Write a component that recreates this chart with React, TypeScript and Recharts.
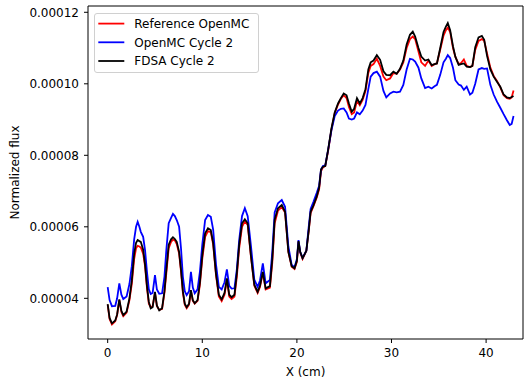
import React from 'react';
import { LineChart, Line, XAxis, YAxis, Legend, ReferenceLine } from 'recharts';

// x positions (cm)
const xs: number[] = [
  0, 0.2, 0.45, 0.8, 1.0, 1.23, 1.45, 1.65, 2.0, 2.3, 2.55, 2.8, 3.0, 3.17, 3.35, 3.5, 3.75, 3.95, 4.15, 4.35, 4.55, 4.75, 5.0, 5.2, 5.45, 5.75, 6.0, 6.2, 6.45, 6.7, 6.9, 7.1, 7.3, 7.55, 7.75, 7.95, 8.15, 8.35, 8.6, 8.8, 9.0, 9.2, 9.5, 9.75, 10.0,
  10.3, 10.6, 10.9, 11.15, 11.45, 11.75, 12.05, 12.35, 12.6, 12.85, 13.1, 13.4, 13.65, 13.9, 14.2, 14.5, 14.8, 15.15, 15.5, 15.85, 16.1, 16.4, 16.7, 17.15, 17.4, 17.65, 18.0, 18.4, 18.75, 19.1, 19.45, 19.75, 20.0, 20.17, 20.35, 20.6,
  21.0, 21.25, 21.45, 21.75, 22.1, 22.35, 22.55, 22.75, 23.0, 23.3, 23.65, 24.0, 24.35, 24.65, 24.95, 25.25, 25.5, 25.8, 26.05, 26.35, 26.65, 26.95, 27.25, 27.55, 27.8,
  28.1, 28.45, 28.8, 29.15, 29.45, 29.85, 30.2, 30.55, 30.9, 31.25, 31.6, 31.95, 32.25, 32.5, 32.85, 33.15, 33.55, 33.9, 34.25, 34.55, 34.8, 35.15, 35.5, 35.75, 35.95, 36.2, 36.5, 36.75, 37.1, 37.35, 37.65, 37.95, 38.3, 38.55, 38.85, 39.2, 39.55, 39.8, 40.1, 40.45, 40.8, 41.15, 41.5, 41.85, 42.2, 42.5, 42.7, 42.9,
];

// values in units of 1e-5
const referenceOpenMC: number[] = [
  3.82, 3.42, 3.27, 3.36, 3.53, 3.95, 3.62, 3.5, 3.6, 3.95, 4.4, 5.1, 5.4, 5.47, 5.45, 5.42, 5.25, 4.9, 4.3, 3.85, 3.75, 3.78, 4.15, 3.78, 3.68, 3.7, 4.15, 4.7, 5.4, 5.58, 5.64, 5.62, 5.52, 5.25, 4.75, 4.15, 3.82, 3.72, 3.82, 4.2, 3.93, 3.85, 3.93, 4.38, 5.1,
  5.72, 5.88, 5.85, 5.5, 4.65, 4.05, 3.92, 4.1, 4.52, 4.05, 3.98, 4.05, 4.6, 5.4, 6.0, 6.15, 6.05, 5.15, 4.35, 4.15, 4.32, 4.72, 4.25, 4.3, 5.0, 6.1, 6.45, 6.55, 6.4, 5.3, 4.88, 4.82, 5.02, 5.58, 5.28, 5.1,
  5.33, 5.88, 6.38, 6.58, 6.82, 7.05, 7.55, 7.66, 7.7, 8.12, 8.72, 9.18, 9.42, 9.58, 9.68, 9.6, 9.35, 9.15, 9.2, 9.52, 9.4, 9.55, 9.8, 10.3, 10.5,
  10.55, 10.7, 10.5, 10.2, 10.1, 10.15, 10.3, 10.28, 10.4, 10.6, 11.0, 11.25, 11.32, 11.25, 10.9, 10.6, 10.5, 10.65, 10.5, 10.55, 10.57, 10.95, 11.35, 11.5, 11.57, 11.45, 11.0, 10.75, 10.55, 10.58, 10.68, 10.5, 10.47, 10.5, 10.95, 11.2, 11.25, 11.2, 10.85, 10.45, 10.22, 10.08, 9.9, 9.68, 9.6, 9.58, 9.62, 9.81,
];

const openMCCycle2: number[] = [
  4.31, 3.95, 3.78, 3.79, 4.0, 4.42, 4.1, 3.98, 4.05, 4.4, 4.9, 5.65, 6.0, 6.14, 6.0, 5.86, 5.72, 5.35, 4.75, 4.25, 4.12, 4.15, 4.65, 4.25, 4.13, 4.14, 4.6, 5.35, 6.1, 6.25, 6.36, 6.3, 6.19, 6.0, 5.4, 4.6, 4.2, 4.09, 4.2, 4.74, 4.3, 4.14, 4.25, 4.75, 5.5,
  6.19, 6.33, 6.28, 5.92, 4.95, 4.32, 4.25, 4.45, 4.81, 4.35, 4.27, 4.28, 4.8, 5.63, 6.3, 6.52, 6.3, 5.45, 4.52, 4.32, 4.5, 4.98, 4.42, 4.51, 5.3, 6.4, 6.66, 6.75, 6.56, 5.45, 4.93, 4.87, 5.1, 5.63, 5.3, 5.13,
  5.33, 6.0, 6.5, 6.7, 6.95, 7.15, 7.6, 7.7, 7.72, 8.15, 8.7, 9.1, 9.25, 9.3, 9.31, 9.2, 9.03, 9.0, 9.03, 9.2, 9.15, 9.25, 9.41, 9.85, 10.2,
  10.3, 10.34, 10.2, 9.8, 9.62, 9.73, 9.78, 9.76, 9.78, 9.97, 10.4, 10.7, 10.68, 10.62, 10.45, 10.15, 9.88, 9.92, 9.87, 9.93, 9.97, 10.25, 10.6, 10.7, 10.8, 10.72, 10.45, 10.1, 9.98, 9.95, 9.83, 9.92, 9.7, 9.75, 10.0, 10.4, 10.44, 10.42, 10.43, 9.97, 9.7, 9.5, 9.33, 9.15, 8.98, 8.85, 8.88, 9.1,
];

const fdsaCycle2: number[] = [
  3.84, 3.45, 3.3, 3.38, 3.55, 3.97, 3.65, 3.53, 3.63, 4.0, 4.5, 5.25, 5.55, 5.63, 5.6, 5.58, 5.36, 4.95, 4.35, 3.9, 3.72, 3.75, 4.18, 3.8, 3.66, 3.72, 4.2, 4.8, 5.5, 5.65, 5.71, 5.66, 5.58, 5.3, 4.8, 4.2, 3.85, 3.75, 3.85, 4.23, 3.95, 3.86, 3.95, 4.45, 5.2,
  5.82, 5.96, 5.91, 5.55, 4.68, 4.1, 3.97, 4.15, 4.56, 4.1, 4.03, 4.1, 4.7, 5.5, 6.1, 6.21, 6.1, 5.17, 4.38, 4.18, 4.35, 4.74, 4.28, 4.34, 5.1, 6.2, 6.52, 6.61, 6.42, 5.3, 4.9, 4.84, 5.05, 5.6, 5.3, 5.12,
  5.33, 5.9, 6.42, 6.6, 6.85, 7.1, 7.6, 7.68, 7.7, 8.15, 8.75, 9.2, 9.45, 9.6, 9.73, 9.68, 9.45, 9.22, 9.3, 9.6, 9.45, 9.6, 9.85, 10.4, 10.6,
  10.65, 10.8, 10.67, 10.35, 10.25, 10.24, 10.34, 10.28, 10.42, 10.65, 11.1, 11.37, 11.46, 11.32, 11.0, 10.76, 10.65, 10.68, 10.52, 10.55, 10.57, 11.0, 11.45, 11.6, 11.7, 11.5, 11.05, 10.76, 10.53, 10.55, 10.57, 10.48, 10.47, 10.5, 11.02, 11.3, 11.34, 11.23, 10.78, 10.4, 10.2, 10.06, 9.92, 9.7, 9.62, 9.6, 9.63, 9.66,
];

const xTicks: number[] = [0, 10, 20, 30, 40];
const yTicks: number[] = [0.00004, 0.00006, 0.00008, 0.0001, 0.00012];

const seriesNames = ['Reference OpenMC', 'OpenMC Cycle 2', 'FDSA Cycle 2'];
const seriesColors = ['#ff0000', '#0000ff', '#000000'];

const data = xs.map((x, i) => ({
  x,
  ref: referenceOpenMC[i] * 1e-5,
  omc: openMCCycle2[i] * 1e-5,
  fdsa: fdsaCycle2[i] * 1e-5,
}));

const FONT = '"DejaVu Sans", sans-serif';
const X_DOMAIN: [number, number] = [-2.08, 43.9];
const Y_DOMAIN: [number, number] = [2.862e-5, 12.176e-5];

const YLabel = () => (
  <text
    x={15}
    y={172.5}
    transform="rotate(-90 15 172.5)"
    textAnchor="middle"
    dominantBaseline="central"
    fontSize={12}
    fontFamily={FONT}
    fill="#000"
  >
    Normalized flux
  </text>
);

const XLabel = () => (
  <text x={305.5} y={376} textAnchor="middle" fontSize={12} fontFamily={FONT} fill="#000">
    X (cm)
  </text>
);

const LegendBox = () => (
  <div
    style={{
      width: 165,
      height: 60,
      boxSizing: 'border-box',
      border: '1px solid #d0d0d0',
      borderRadius: 3,
      background: 'rgba(255,255,255,0.8)',
      position: 'relative',
    }}
  >
    <svg width={165} height={60} style={{ position: 'absolute', left: -1, top: -1 }}>
      {seriesNames.map((name, i) => (
        <g key={name}>
          <line x1={4.3} x2={30.3} y1={10.6 + i * 18.7} y2={10.6 + i * 18.7} stroke={seriesColors[i]} strokeWidth={1.8} />
          <text x={40.3} y={10.6 + i * 18.7 + 4.3} fontSize={12} fontFamily={FONT} fill="#000">
            {name}
          </text>
        </g>
      ))}
    </svg>
  </div>
);

export default function App() {
  return (
    <div style={{ position: 'absolute', left: 0, top: 0, width: 529, height: 383, background: '#fff' }}>
      <LineChart width={529} height={383} data={data} margin={{ top: 6, right: 6, bottom: 0, left: 0 }}>
        <XAxis
          dataKey="x"
          type="number"
          domain={X_DOMAIN}
          ticks={xTicks}
          allowDataOverflow
          height={44}
          tickSize={4}
          tickMargin={5}
          stroke="#000"
          tick={{ fill: '#000', fontSize: 12, fontFamily: FONT }}
          label={<XLabel />}
        />
        <YAxis
          type="number"
          domain={Y_DOMAIN}
          ticks={yTicks}
          allowDataOverflow
          width={88}
          tickSize={4}
          tickMargin={5}
          stroke="#000"
          tickFormatter={(v: number) => v.toFixed(5)}
          tick={{ fill: '#000', fontSize: 12, fontFamily: FONT }}
          label={<YLabel />}
        />
        <ReferenceLine y={Y_DOMAIN[1]} stroke="#000" strokeWidth={1} ifOverflow="visible" />
        <ReferenceLine x={X_DOMAIN[1]} stroke="#000" strokeWidth={1} ifOverflow="visible" />
        <Legend
          layout="vertical"
          align="center"
          verticalAlign="middle"
          content={<LegendBox />}
          wrapperStyle={{ left: 94, top: 13, width: 165, height: 60 }}
        />
        <Line dataKey="ref" name={seriesNames[0]} stroke={seriesColors[0]} strokeWidth={1.8} dot={false} isAnimationActive={false} />
        <Line dataKey="omc" name={seriesNames[1]} stroke={seriesColors[1]} strokeWidth={1.8} dot={false} isAnimationActive={false} />
        <Line dataKey="fdsa" name={seriesNames[2]} stroke={seriesColors[2]} strokeWidth={1.8} dot={false} isAnimationActive={false} />
      </LineChart>
    </div>
  );
}
